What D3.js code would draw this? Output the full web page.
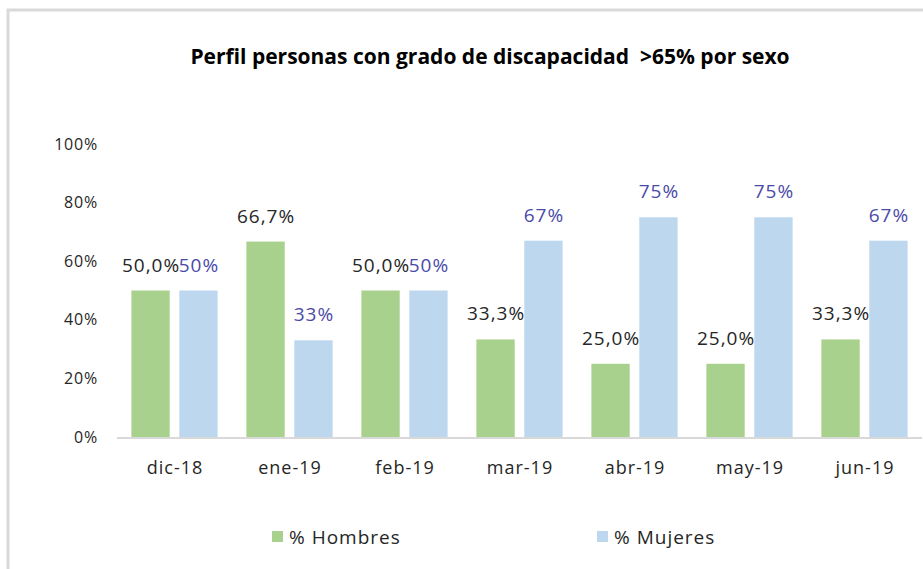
<!DOCTYPE html>
<html>
<head>
<meta charset="utf-8">
<script src="https://cdn.jsdelivr.net/npm/d3@7"></script>
<style>
  html, body { margin: 0; padding: 0; background: #fff; }
  svg { display: block; font-family: 'Open Sans', 'Noto Sans', sans-serif; }
</style>
</head>
<body>
<div class="chart-container"></div>
<script>
// chart data
var months = ['dic-18', 'ene-19', 'feb-19', 'mar-19', 'abr-19', 'may-19', 'jun-19'];
var hombres = [0.500, 0.667, 0.500, 0.333, 0.250, 0.250, 0.333];
var mujeres = [0.50, 0.33, 0.50, 0.67, 0.75, 0.75, 0.67];
var seriesNames = ['% Hombres', '% Mujeres'];
var yTicks = [0, 0.2, 0.4, 0.6, 0.8, 1.0];

var svgWidth = 923;
var svgHeight = 569;

var greenColor = '#a9d18e';
var blueColor = '#bdd7ee';
var textColor = '#262626';
var blueLabelColor = '#4a4aa8';

var svg = d3.select('.chart-container').append('svg')
  .attr('width', svgWidth)
  .attr('height', svgHeight);

// chart area border (only top and left visible)
svg.append('path')
  .attr('d', 'M8,' + svgHeight + 'V10H' + svgWidth)
  .attr('fill', 'none')
  .attr('stroke', '#d9d9d9')
  .attr('stroke-width', 3);

// title
svg.append('text')
  .attr('x', 490)
  .attr('y', 64)
  .style('text-anchor', 'middle')
  .style('font-weight', 'bold')
  .style('font-size', '21px')
  .style('white-space', 'pre')
  .style('fill', '#000')
  .text('Perfil personas con grado de discapacidad  >65% por sexo');

var xScale = d3.scaleBand()
  .domain(months)
  .range([117, 922])
  .paddingInner(0.25)
  .paddingOuter(0.125);

var xInner = d3.scaleBand()
  .domain(seriesNames)
  .range([0, xScale.bandwidth()])
  .paddingInner(0.2);

var yScale = d3.scaleLinear()
  .domain([0, 1])
  .range([437, 144]);

// y axis labels
var yAxis = d3.axisLeft(yScale)
  .tickValues(yTicks)
  .tickFormat(d3.format('.0%'))
  .tickSize(0)
  .tickPadding(0);

var yAxisG = svg.append('g')
  .attr('transform', 'translate(98,0)')
  .call(yAxis);
yAxisG.select('.domain').remove();
yAxisG.selectAll('text')
  .style('font-family', "'Open Sans', sans-serif")
  .style('font-size', '16px')
  .style('letter-spacing', '0.8px')
  .style('fill', textColor);

// x axis
var xAxis = d3.axisBottom(xScale)
  .tickSize(0)
  .tickPadding(24);

var xAxisG = svg.append('g')
  .attr('transform', 'translate(0,' + yScale(0) + ')')
  .call(xAxis);
xAxisG.select('.domain').remove();
xAxisG.selectAll('text')
  .attr('dx', '0.5')
  .style('font-family', "'Open Sans', sans-serif")
  .style('font-size', '18px')
  .style('letter-spacing', '1px')
  .style('fill', textColor);

var rows = months.map(function(m, i) {
  return { month: m, values: [hombres[i], mujeres[i]] };
});

var groups = svg.selectAll('.group')
  .data(rows)
  .enter()
  .append('g')
  .attr('class', 'group')
  .attr('transform', function(d) {
    return 'translate(' + xScale(d.month) + ',0)';
  });

groups.selectAll('rect')
  .data(function(d) {
    return d.values.map(function(v, j) { return { name: seriesNames[j], value: v, idx: j }; });
  })
  .enter()
  .append('rect')
  .attr('x', function(d) { return xInner(d.name); })
  .attr('y', function(d) { return yScale(d.value); })
  .attr('width', xInner.bandwidth())
  .attr('height', function(d) { return yScale(0) - yScale(d.value); })
  .attr('fill', function(d) { return d.idx === 0 ? greenColor : blueColor; });

// data labels
var fmtH = function(v) { return (v * 100).toFixed(1).replace('.', ',') + '%'; };
var fmtM = function(v) { return Math.round(v * 100) + '%'; };

groups.selectAll('.label')
  .data(function(d) {
    return d.values.map(function(v, j) { return { name: seriesNames[j], value: v, idx: j }; });
  })
  .enter()
  .append('text')
  .attr('class', 'label')
  .attr('x', function(d) { return xInner(d.name) + xInner.bandwidth() / 2 + 0.5; })
  .attr('y', function(d) { return yScale(d.value) - 19; })
  .style('text-anchor', 'middle')
  .style('font-size', '19px')
  .style('letter-spacing', '1px')
  .style('fill', function(d) { return d.idx === 0 ? textColor : blueLabelColor; })
  .text(function(d) { return d.idx === 0 ? fmtH(d.value) : fmtM(d.value); });

// baseline
svg.append('line')
  .attr('x1', 117)
  .attr('x2', 922)
  .attr('y1', yScale(0) + 1)
  .attr('y2', yScale(0) + 1)
  .attr('stroke', '#d9d9d9')
  .attr('stroke-width', 2);

// legend
var legendX = d3.scalePoint()
  .domain(seriesNames)
  .range([272, 597]);

var legend = svg.selectAll('.legend-item')
  .data(seriesNames)
  .enter()
  .append('g')
  .attr('class', 'legend-item')
  .attr('transform', function(d) { return 'translate(' + legendX(d) + ',531)'; });

legend.append('rect')
  .attr('width', 11)
  .attr('height', 11)
  .attr('fill', function(d, i) { return i === 0 ? greenColor : blueColor; });

legend.append('text')
  .attr('x', 17)
  .attr('y', 13)
  .style('font-size', '19px')
  .style('letter-spacing', '1px')
  .style('fill', textColor)
  .text(function(d) { return d; });
</script>
</body>
</html>
